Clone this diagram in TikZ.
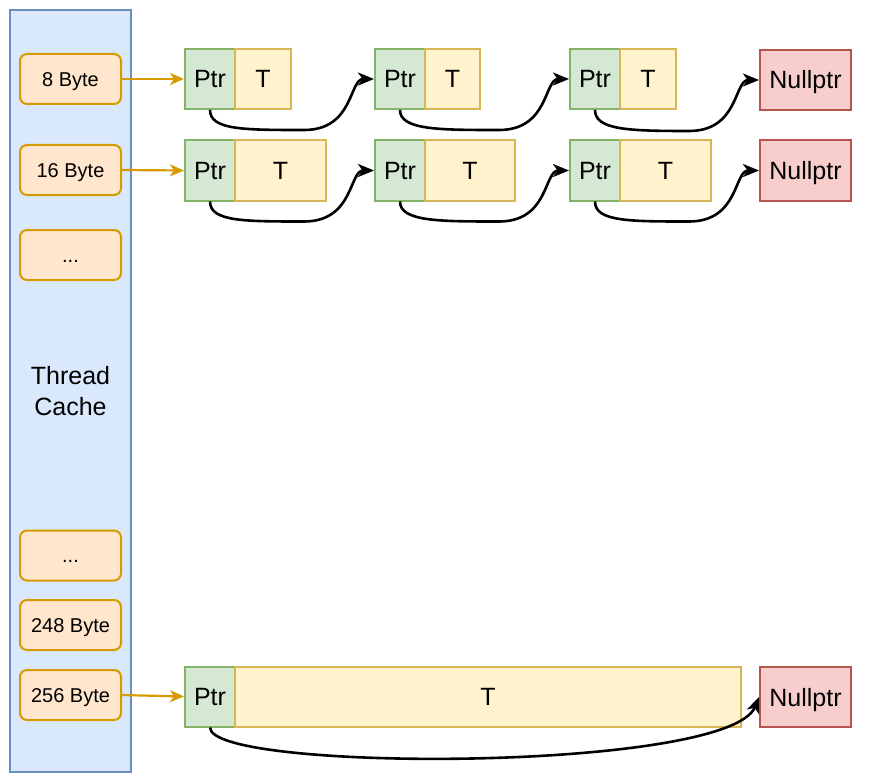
\documentclass[tikz,border=0pt]{standalone}
\usepackage{fontspec}
\setmainfont{Liberation Sans}
\usetikzlibrary{arrows.meta,calc}
\definecolor{cacheFill}{HTML}{DAE8FC}
\definecolor{cacheLine}{HTML}{6C8EBF}
\definecolor{sizeFill}{HTML}{FFE6CC}
\definecolor{sizeLine}{HTML}{D79B00}
\definecolor{ptrFill}{HTML}{D5E8D4}
\definecolor{ptrLine}{HTML}{82B366}
\definecolor{dataFill}{HTML}{FFF2CC}
\definecolor{dataLine}{HTML}{D6B656}
\definecolor{nullFill}{HTML}{F8CECC}
\definecolor{nullLine}{HTML}{B85450}
\newcommand\nextlink[2]{\draw[link] (#1.south) .. controls +(0,20) and +(-60,0) .. ($(#2.west)+(-70,51)$) .. controls +(50,0) and +(-25,0) .. (#2.west);}

\begin{document}
\begin{tikzpicture}[x=1pt,y=-1pt,
  box/.style={draw,line width=2pt,inner sep=0pt,minimum height=60pt,text height=18pt,text depth=0pt,font=\fontsize{25}{30}\selectfont},
  ptr/.style={box,fill=ptrFill,draw=ptrLine,minimum width=50pt},
  data/.style={box,fill=dataFill,draw=dataLine},
  null/.style={box,fill=nullFill,draw=nullLine,minimum width=91pt},
  size/.style={draw=sizeLine,fill=sizeFill,line width=2pt,rounded corners=7pt,minimum width=101pt,minimum height=50pt,inner sep=0pt,text height=14.4pt,text depth=0pt,font=\fontsize{20}{24}\selectfont},
  feed/.style={draw=sizeLine,line width=2.2pt,-{Stealth[length=14pt,width=12pt,inset=4pt]}},
  link/.style={line width=2.6pt,-{Stealth[length=16pt,width=13pt,inset=4.5pt]}}]
  \useasboundingbox (0,0) rectangle (881,781);

  \node[draw=cacheLine,fill=cacheFill,line width=2pt,minimum width=121pt,minimum height=761pt,align=center,font=\fontsize{25}{31}\selectfont] (cache) at (70.5,391) {Thread\\Cache};

  \node[size] (b8) at (70.5,79) {8 Byte};
  \node[size] (b16) at (70.5,170) {16 Byte};
  \node[size] (dots1) at (70.5,255) {...};
  \node[size] (dots2) at (70.5,555.5) {...};
  \node[size] (b248) at (70.5,625) {248 Byte};
  \node[size] (b256) at (70.5,695) {256 Byte};

  \node[ptr] (p11) at (210,79) {Ptr};
  \node[data,minimum width=56pt] (t11) at (263,79) {T};
  \node[ptr] (p12) at (400,79) {Ptr};
  \node[data,minimum width=55pt] (t12) at (452.5,79) {T};
  \node[ptr] (p13) at (595,79) {Ptr};
  \node[data,minimum width=56pt] (t13) at (648,79) {T};
  \node[null] (n1) at (805.5,80) {Nullptr};

  \node[ptr] (p21) at (210,170.5) {Ptr};
  \node[data,minimum width=91pt] (t21) at (280.5,170.5) {T};
  \node[ptr] (p22) at (400,170.5) {Ptr};
  \node[data,minimum width=90pt] (t22) at (470,170.5) {T};
  \node[ptr] (p23) at (595,170.5) {Ptr};
  \node[data,minimum width=91pt] (t23) at (665.5,170.5) {T};
  \node[null] (n2) at (805.5,170.5) {Nullptr};

  \node[ptr] (p31) at (210,696.5) {Ptr};
  \node[data,minimum width=506pt] (t31) at (488,696.5) {T};
  \node[null] (n3) at (805.5,697) {Nullptr};

  \draw[feed] (b8.east) -- (p11.west);
  \draw[feed] (b16.east) -- (p21.west);
  \draw[feed] (b256.east) -- (p31.west);

  \nextlink{p11}{p12}
  \nextlink{p12}{p13}
  \nextlink{p13}{n1}
  \nextlink{p21}{p22}
  \nextlink{p22}{p23}
  \nextlink{p23}{n2}
  \draw[link] (p31.south) .. controls +(0,45) and +(-30,75) .. (n3.west);
\end{tikzpicture}
\end{document}
